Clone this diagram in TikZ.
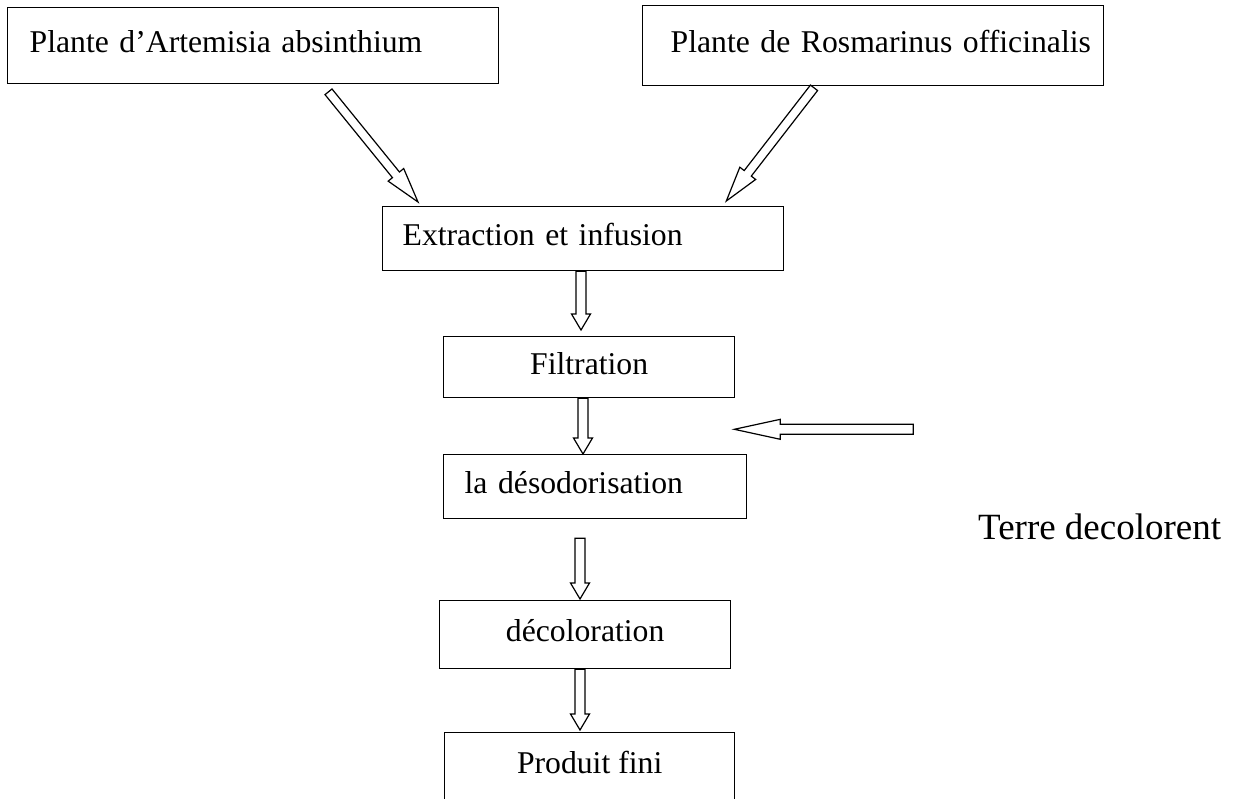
\documentclass[tikz,border=0pt]{standalone}
\usepackage{fontspec}
\setmainfont{Liberation Serif}
\usetikzlibrary{calc}
\tikzset{
 box/.style={draw, line width=1.3pt, rectangle, inner sep=0pt, anchor=north west,
   font=\fontsize{31.7}{38}\selectfont, text height=22pt, text depth=8pt},
 lbox/.style={box, align=left},
 blockarrow/.style n args={3}{draw, line width=1.2pt, line join=miter,
   to path={let \p1=(\tikztostart), \p2=(\tikztotarget), \p3=($(\p2)!#3!(\p1)$) in
     ($(\p1)!#1!90:(\p2)$) -- ($(\p3)!#1!90:(\p2)$) -- ($(\p3)!#2!90:(\p2)$) -- (\p2)
     -- ($(\p3)!#2!-90:(\p2)$) -- ($(\p3)!#1!-90:(\p2)$) -- ($(\p1)!#1!-90:(\p2)$) -- cycle}},
 diagarrow/.style={blockarrow={4.5pt}{10pt}{35pt}},
 vertarrow/.style={blockarrow={5pt}{9.5pt}{16pt}},
 sidearrow/.style={blockarrow={5pt}{10pt}{46pt}},
 side/.style={font=\fontsize{37}{44}\selectfont, inner sep=0pt, anchor=west},
}
\begin{document}
\begin{tikzpicture}[x=1pt,y=-1pt]
\useasboundingbox (0,0) rectangle (1238,798);
\node[lbox, minimum width=491pt, minimum height=76pt, inner xsep=22pt, text width=447pt] (A) at (7,7) {\mbox{Plante d’Artemisia absinthium}};
\node[lbox, minimum width=461pt, minimum height=80pt, inner xsep=28pt, text width=405pt] (R) at (642,5) {\mbox{Plante de Rosmarinus officinalis}};
\node[lbox, minimum width=401pt, minimum height=64pt, inner xsep=20pt, text width=361pt] (E) at (382,206) {\mbox{Extraction et infusion}};
\node[box, minimum width=291pt, minimum height=61pt] (F) at (443,336) {Filtration};
\node[lbox, minimum width=303pt, minimum height=64pt, inner xsep=21pt, text width=261pt] (D) at (443,454) {\mbox{la désodorisation}};
\node[box, minimum width=291pt, minimum height=68pt] (C) at (439,600) {décoloration};
\node[box, minimum width=290pt, minimum height=90pt, text depth=30pt] (P) at (444,732) {Produit fini};
\node[side] (T) at (978,527) {Terre decolorent};

\coordinate (a1) at ($(A.south west)+(321.5,7.5)$);
\coordinate (a2) at ($(E.north west)+(36,-4)$);
\coordinate (r1) at ($(R.south west)+(172,1.5)$);
\coordinate (r2) at ($(E.north east)+(-58,-5)$);
\coordinate (ef1) at ($(E.south west)+(199,0)$);
\coordinate (ef2) at ($(F.north west)+(138,-6)$);
\coordinate (fd1) at ($(F.south west)+(140,0)$);
\coordinate (fd2) at ($(D.north west)+(140,0)$);
\coordinate (dc1) at ($(D.south west)+(137,19)$);
\coordinate (dc2) at ($(C.north west)+(141,-1)$);
\coordinate (cp1) at ($(C.south west)+(141,0)$);
\coordinate (cp2) at ($(P.north west)+(136,-2)$);
\coordinate (t1) at ($(F.south east)+(178,31)$);
\coordinate (t2) at ($(F.south east)+(-1,31)$);

\draw[diagarrow] (a1) to (a2);
\draw[diagarrow] (r1) to (r2);
\draw[vertarrow] (ef1) to (ef2);
\draw[vertarrow] (fd1) to (fd2);
\draw[vertarrow] (dc1) to (dc2);
\draw[vertarrow] (cp1) to (cp2);
\draw[sidearrow] (t1) to (t2);
\end{tikzpicture}
\end{document}
